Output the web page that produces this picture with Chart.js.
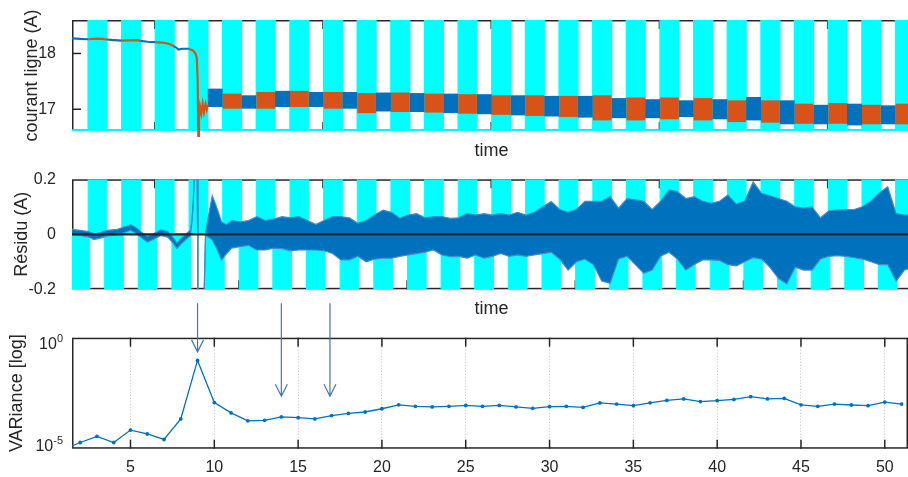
<!DOCTYPE html>
<html>
<head>
<meta charset="utf-8">
<script src="https://cdn.jsdelivr.net/npm/chart.js@4.4.1/dist/chart.umd.min.js"></script>
<style>
  html, body { margin: 0; padding: 0; background: #fff; overflow: hidden; width: 908px; height: 477px; }
  canvas { position: absolute; left: 0; }
  #graphCourant { top: 0; }
  #graphResidu { top: 160px; }
  #graphVariance { top: 295px; }
</style>
</head>
<body>
<canvas id="graphVariance" width="912" height="182"></canvas>
<canvas id="graphResidu" width="912" height="160"></canvas>
<canvas id="graphCourant" width="912" height="162"></canvas>
<script>
// =========================================================
// 1. DONNÉES
// =========================================================
const X_MIN = 1.511, X_MAX = 51.384;

// fenêtres cyan [début, fin] - moitié haute / moitié basse
const fenetresHaut = [[2.47,3.58],[4.47,5.58],[6.47,7.58],[8.47,9.58],[10.47,11.58],[12.47,13.58],[14.47,15.58],
  [16.47,17.58],[18.47,19.58],[20.47,21.58],[22.47,23.58],[24.47,25.58],[26.47,27.58],[28.47,29.58],[30.47,31.58],
  [32.47,33.58],[34.47,35.58],[36.47,37.58],[38.47,39.58],[40.47,41.58],[42.47,43.58],[44.47,45.58],[46.47,47.58],
  [48.47,49.58],[50.47,51.58]];
const fenetresBas = [[1.45,2.56],[3.45,4.56],[5.45,6.56],[7.45,8.56],[9.45,10.56],[11.45,12.56],[13.45,14.56],
  [15.45,16.56],[17.45,18.56],[19.45,20.56],[21.45,22.56],[23.45,24.56],[25.45,26.56],[27.45,28.56],[29.45,30.56],
  [31.45,32.56],[33.45,34.56],[35.45,36.56],[37.45,38.56],[39.45,40.56],[41.45,42.56],[43.45,44.56],[45.45,46.56],
  [47.45,48.56],[49.45,50.56],[51.45,52.56]];

// courant ligne : début (trait fin) jusqu'à la chute
const courantX = [1.51,2.0,2.47,2.9,3.3,3.58,4.0,4.47,5.0,5.36,5.58,6.0,6.47,7.0,7.3,7.58,7.85,8.05,8.47,8.72,8.85,
  8.93,8.98,9.02,9.06,9.12,9.2,9.28,9.36,9.45,9.52,9.58];
const courantY = [18.27,18.26,18.255,18.265,18.26,18.25,18.24,18.23,18.235,18.24,18.225,18.21,18.205,18.19,18.17,
  18.13,18.07,18.085,18.085,18.05,18.0,17.92,17.55,16.5,16.85,17.05,16.92,17.1,16.95,17.1,17.0,17.08];
// bande bruitée, fenêtres cyan (orange) 5 à 25
const orangeHaut = [17.28,17.31,17.33,17.31,17.29,17.30,17.28,17.27,17.25,17.25,17.24,17.25,17.21,17.21,17.20,17.16,
  17.16,17.10,17.11,17.08,17.10];
const orangeBas = [17.01,17.01,17.04,17.01,16.93,16.95,16.94,16.92,16.90,16.88,16.86,16.80,16.80,16.82,16.80,16.77,
  16.76,16.74,16.74,16.73,16.73];
// bande bruitée, intervalles blancs (bleu) 4 à 24
const bleuHaut = [17.37,17.25,17.33,17.31,17.31,17.30,17.29,17.28,17.27,17.25,17.24,17.24,17.20,17.18,17.16,17.18,
  17.22,17.16,17.08,17.10,17.07];
const bleuBas = [17.04,17.01,17.04,17.04,17.01,16.96,16.95,16.93,16.91,16.89,16.87,16.85,16.84,16.84,16.86,16.82,
  16.80,16.73,16.73,16.71,16.73];

// résidu : enveloppe haute / basse
const residuX = [1.51,2.0,2.5,2.8,3.2,3.6,4.2,4.8,5.0,5.3,5.8,6.0,6.3,6.8,7.2,7.5,7.75,8.0,8.3,8.55,8.65,8.72,8.8,
  8.95,9.0,9.35,9.45,9.6,9.85,10.1,10.4,10.7,11,11.5,12,12.5,13,13.5,14,14.5,15,15.5,16,16.5,17,17.5,18,18.5,19,19.5,
  20,20.5,21,21.5,22,22.5,23,23.5,24,24.5,25,25.5,26,26.5,27,27.5,28,28.5,29,29.5,30,30.5,31,31.5,32,32.5,33,33.5,
  34,34.5,35,35.5,36,36.5,37,37.5,38,38.5,39,39.5,40,40.5,41,41.5,42,42.5,43,43.5,44,44.5,45,45.5,46,46.5,47,47.5,
  48,48.5,49,49.5,50,50.5,51,51.5];
const residuHaut = [0.018,0.014,0.010,0.001,0.006,0.014,0.018,0.030,0.035,0.025,0.000,-0.008,0.000,0.016,0.010,
  -0.010,-0.032,-0.015,0.002,0.015,0.06,0.12,0.25,0.25,-0.25,-0.25,0.005,0.06,0.14,0.10,0.045,0.035,
  0.05,0.045,0.05,0.064,0.05,0.055,0.064,0.06,0.064,0.05,0.036,0.05,0.064,0.064,0.06,0.04,0.05,0.07,
  0.088,0.08,0.058,0.07,0.075,0.06,0.064,0.064,0.058,0.06,0.075,0.07,0.075,0.07,0.075,0.07,0.08,0.07,0.08,0.10,
  0.119,0.09,0.08,0.09,0.12,0.12,0.12,0.137,0.095,0.13,0.125,0.12,0.09,0.12,0.161,0.155,0.13,0.137,0.12,0.113,
  0.12,0.143,0.11,0.12,0.19,0.149,0.14,0.13,0.12,0.10,0.095,0.10,0.06,0.085,0.088,0.09,0.09,0.10,0.12,0.15,
  0.173,0.075,0.07,0.07];
const residuBas = [-0.002,-0.004,-0.010,-0.019,-0.014,-0.006,-0.002,0.010,0.015,0.005,-0.020,-0.028,-0.020,-0.004,
  -0.010,-0.030,-0.052,-0.035,-0.018,-0.005,0.05,0.11,0.24,0.24,-0.26,-0.26,-0.005,-0.01,-0.02,-0.05,-0.093,-0.07,
  -0.05,-0.045,-0.04,-0.057,-0.057,-0.05,-0.052,-0.06,-0.057,-0.057,-0.057,-0.06,-0.07,-0.093,-0.093,-0.08,-0.10,
  -0.09,-0.087,-0.087,-0.08,-0.075,-0.07,-0.065,-0.057,-0.075,-0.081,-0.08,-0.087,-0.075,-0.087,-0.08,-0.07,-0.08,
  -0.075,-0.08,-0.075,-0.07,-0.065,-0.09,-0.13,-0.10,-0.09,-0.11,-0.17,-0.178,-0.09,-0.08,-0.11,-0.142,-0.13,-0.08,
  -0.065,-0.09,-0.13,-0.11,-0.093,-0.093,-0.095,-0.11,-0.115,-0.10,-0.085,-0.09,-0.12,-0.16,-0.18,-0.12,-0.13,
  -0.13,-0.09,-0.08,-0.078,-0.08,-0.085,-0.09,-0.10,-0.11,-0.11,-0.17,-0.13,-0.12];

// variance par fenêtre (échelle log)
const fenetreNum = [1,2,3,4,5,6,7,8,9,10,11,12,13,14,15,16,17,18,19,20,21,22,23,24,25,26,27,28,29,30,31,32,33,34,35,
  36,37,38,39,40,41,42,43,44,45,46,47,48,49,50,51];
const variance = [9.3e-6,1.9e-5,3.6e-5,1.9e-5,6.9e-5,4.6e-5,2.6e-5,2.2e-4,9.5e-2,1.2e-3,4.1e-4,1.8e-4,1.9e-4,2.7e-4,
  2.5e-4,2.2e-4,3.1e-4,3.9e-4,4.5e-4,6.3e-4,9.5e-4,8.1e-4,7.6e-4,8.1e-4,8.9e-4,8.1e-4,8.9e-4,7.6e-4,6.6e-4,7.8e-4,
  8.1e-4,7.2e-4,1.15e-3,1.02e-3,8.7e-4,1.17e-3,1.5e-3,1.74e-3,1.32e-3,1.45e-3,1.66e-3,2.2e-3,1.74e-3,1.86e-3,9.5e-4,
  8.1e-4,1.02e-3,9.3e-4,8.7e-4,1.26e-3,1.02e-3];

// flèches (fenêtres signalées)
const flechesX = [9, 14, 16.9];
const flechesFin = [0.23, 2.3e-3, 2.3e-3];
const flecheDebut = 36;

// graduations
const ticksTemps = [6.43, 11.43, 16.43, 21.43, 26.43, 31.43, 36.43, 41.43, 46.43];
const ticksCourant = [17, 18];
const ticksResidu = [-0.2, 0, 0.2];
const etiquettesResidu = ['-0.2', '0', '0.2'];
const ticksFenetre = [5, 10, 15, 20, 25, 30, 35, 40, 45, 50];
const ticksLog = [1e-5, 1];
const exposantsLog = ['-5', '0'];

// =========================================================
// 2. STYLE COMMUN
// =========================================================
const BLEU = '#0072BD', BLEU_CLAIR = '#3d8fcc', ORANGE = '#D95319', CYAN = '#00FFFF', ENCRE = '#262626';
const POLICE = "'Liberation Sans', Arial, Helvetica, sans-serif";
Chart.defaults.font.family = POLICE;
Chart.defaults.color = ENCRE;
Chart.defaults.animation = false;

const xy = (xs, ys) => xs.map((x, i) => ({ x: x, y: ys[i] }));

// onde carrée des fenêtres (tracée en escalier + remplissage)
function onde(fenetres, bas, haut) {
  const pts = [{ x: 0, y: bas }];
  fenetres.forEach(([a, b]) => { pts.push({ x: a, y: haut }, { x: b, y: bas }); });
  pts.push({ x: 60, y: bas });
  return pts;
}
const dansFenetre = x => fenetresHaut.some(([a, b]) => x >= a && x <= b);

// cadre + graduations vers l'intérieur (style MATLAB)
const cadre = {
  id: 'cadre',
  beforeDatasetsDraw(chart, args, opts) {
    const { ctx, chartArea: a, scales } = chart;
    const trait = (x0, y0, x1, y1) => { ctx.beginPath(); ctx.moveTo(x0, y0); ctx.lineTo(x1, y1); ctx.stroke(); };
    ctx.save();
    ctx.strokeStyle = ENCRE;
    ctx.lineWidth = 1.5;
    ctx.strokeRect(a.left + 0.75, a.top + 0.75, a.right - a.left - 1.5, a.bottom - a.top - 1.5);
    (opts.ticksX || []).forEach(v => {
      const x = scales.x.getPixelForValue(v);
      trait(x, a.top, x, a.top + 9);
      trait(x, a.bottom, x, a.bottom - 9);
    });
    (opts.ticksY || []).forEach(v => {
      const y = scales.y.getPixelForValue(v);
      trait(a.left, y, a.left + 9, y);
    });
    ctx.restore();
  }
};

function axeTemps(hauteur) {
  return {
    type: 'linear', min: X_MIN, max: X_MAX, offset: false,
    afterBuildTicks: s => { s.ticks = ticksTemps.map(v => ({ value: v })); },
    afterFit: s => { s.height = hauteur; },
    grid: { display: false }, border: { display: false },
    ticks: { display: false },
    title: { display: true, text: 'time', font: { size: 18 }, color: ENCRE, padding: 0 }
  };
}

// =========================================================
// 3. COURANT LIGNE
// =========================================================
const xOrange = fenetresHaut.slice(4).map(([a, b]) => (a + b) / 2);
const xBleu = fenetresHaut.slice(3, 24).map(([, b], i) => (b + fenetresHaut[i + 4][0]) / 2);

new Chart(document.getElementById('graphCourant'), {
  type: 'line',
  data: {
    datasets: [
      { data: onde(fenetresHaut, 16.63, 18.7), stepped: true, fill: 'start', backgroundColor: CYAN,
        borderColor: CYAN, borderWidth: 1.5, pointRadius: 0, order: 5 },
      { type: 'bar', data: xBleu.map((x, i) => ({ x: x, y: [bleuBas[i], bleuHaut[i]] })), backgroundColor: BLEU,
        grouped: false, categoryPercentage: 1, barPercentage: 0.89, borderWidth: 0, order: 3 },
      { type: 'bar', data: xOrange.map((x, i) => ({ x: x, y: [orangeBas[i], orangeHaut[i]] })), backgroundColor: ORANGE,
        grouped: false, categoryPercentage: 1, barPercentage: 1.11, borderWidth: 0, order: 2 },
      { data: xy(courantX, courantY), borderColor: BLEU, borderWidth: 2.2, pointRadius: 0, tension: 0,
        segment: { borderColor: c => dansFenetre((c.p0.parsed.x + c.p1.parsed.x) / 2) ? ORANGE : BLEU },
        clip: { left: 0, top: 0, right: 0, bottom: 6 }, order: 1 }
    ]
  },
  options: {
    responsive: false, events: [],
    layout: { padding: { top: 20, left: 0, right: 1, bottom: 0 } },
    plugins: { legend: { display: false }, tooltip: { enabled: false },
      cadre: { ticksX: ticksTemps, ticksY: ticksCourant } },
    scales: {
      x: axeTemps(31),
      y: {
        min: 16.61, max: 18.6,
        afterBuildTicks: s => { s.ticks = ticksCourant.map(v => ({ value: v })); },
        afterFit: s => { s.width = 72; },
        grid: { display: false }, border: { display: false },
        ticks: { font: { size: 16 }, color: ENCRE, padding: 8 },
        title: { display: true, text: 'courant ligne (A)', font: { size: 18 }, color: ENCRE, padding: { top: 21, bottom: 0 } }
      }
    }
  },
  plugins: [cadre]
});

// =========================================================
// 4. RÉSIDU
// =========================================================
new Chart(document.getElementById('graphResidu'), {
  type: 'line',
  data: {
    datasets: [
      { data: onde(fenetresHaut, 0, 0.21), stepped: true, fill: 'origin', backgroundColor: CYAN,
        borderColor: CYAN, borderWidth: 1, pointRadius: 0, order: 6 },
      { data: onde(fenetresBas, 0, -0.21), stepped: true, fill: 'origin', backgroundColor: CYAN,
        borderColor: CYAN, borderWidth: 1, pointRadius: 0, order: 5 },
      { data: xy(residuX, residuHaut), fill: '+1', backgroundColor: BLEU, borderColor: BLEU_CLAIR, borderWidth: 1.2,
        pointRadius: 0, tension: 0, order: 3 },
      { data: xy(residuX, residuBas), fill: false, borderColor: BLEU_CLAIR, borderWidth: 1.2, pointRadius: 0, tension: 0, order: 2 },
      { data: [{ x: 0, y: 0 }, { x: 60, y: 0 }], borderColor: ENCRE, borderWidth: 2.2, pointRadius: 0, order: 0 }
    ]
  },
  options: {
    responsive: false, events: [],
    layout: { padding: { top: 19.3, left: 0, right: 1, bottom: 0 } },
    plugins: { legend: { display: false }, tooltip: { enabled: false },
      cadre: { ticksX: ticksTemps, ticksY: [] } },
    scales: {
      x: axeTemps(30.7),
      y: {
        min: -0.2, max: 0.2,
        afterBuildTicks: s => { s.ticks = ticksResidu.map(v => ({ value: v })); },
        afterFit: s => { s.width = 72; },
        grid: { display: false }, border: { display: false },
        ticks: { font: { size: 16 }, color: ENCRE, padding: 8, callback: (v, i) => etiquettesResidu[i] },
        title: { display: true, text: 'Résidu (A)', font: { size: 18 }, color: ENCRE, padding: { top: 11, bottom: 0 } }
      }
    }
  },
  plugins: [cadre]
});

// =========================================================
// 5. VARIANCE (LOG)
// =========================================================
const annotations = {
  id: 'annotations',
  afterDraw(chart) {
    const { ctx, chartArea: a, scales: { x, y } } = chart;
    ctx.save();
    // flèches
    ctx.strokeStyle = '#4472C4';
    ctx.lineWidth = 1.2;
    flechesX.forEach((v, i) => {
      const px = x.getPixelForValue(v);
      const y0 = y.getPixelForValue(flecheDebut);
      const y1 = y.getPixelForValue(flechesFin[i]);
      ctx.beginPath();
      ctx.moveTo(px, y0); ctx.lineTo(px, y1);
      ctx.moveTo(px - 6, y1 - 12); ctx.lineTo(px, y1); ctx.lineTo(px + 6, y1 - 12);
      ctx.stroke();
    });
    // étiquettes 10^n
    ctx.fillStyle = ENCRE;
    ctx.textAlign = 'right';
    ctx.textBaseline = 'alphabetic';
    ticksLog.forEach((v, i) => {
      const py = y.getPixelForValue(v);
      const base = py + (i === 0 ? 2 : 11);
      ctx.font = '11px ' + POLICE;
      const w = ctx.measureText(exposantsLog[i]).width;
      ctx.fillText(exposantsLog[i], a.left - 9, base - 6.5);
      ctx.font = '16px ' + POLICE;
      ctx.fillText('10', a.left - 9 - w, base);
    });
    ctx.restore();
  }
};

new Chart(document.getElementById('graphVariance'), {
  type: 'line',
  data: {
    datasets: [
      { data: xy(fenetreNum, variance), borderColor: BLEU, backgroundColor: BLEU, borderWidth: 1.3,
        pointRadius: 1.9, pointBorderWidth: 0, pointBackgroundColor: BLEU, tension: 0 }
    ]
  },
  options: {
    responsive: false, events: [],
    layout: { padding: { top: 42.7, left: 0, right: 1, bottom: 0 } },
    plugins: { legend: { display: false }, tooltip: { enabled: false },
      cadre: { ticksX: ticksFenetre, ticksY: [] } },
    scales: {
      x: {
        type: 'linear', min: X_MIN, max: X_MAX, offset: false,
        afterBuildTicks: s => { s.ticks = ticksFenetre.map(v => ({ value: v })); },
        afterFit: s => { s.height = 28.3; },
        grid: { color: '#bdbdbd', lineWidth: 1, drawTicks: false },
        border: { display: false, dash: [1, 2] },
        ticks: { font: { size: 16 }, color: ENCRE, padding: 9, maxRotation: 0, autoSkip: false }
      },
      y: {
        type: 'logarithmic', min: 1e-5, max: 1,
        afterFit: s => { s.width = 72; },
        grid: { display: false }, border: { display: false },
        ticks: { display: false },
        title: { display: true, text: 'VARiance [log]', font: { size: 18 }, color: ENCRE, padding: { top: 6, bottom: 0 } }
      }
    }
  },
  plugins: [cadre, annotations]
});
</script>
</body>
</html>
